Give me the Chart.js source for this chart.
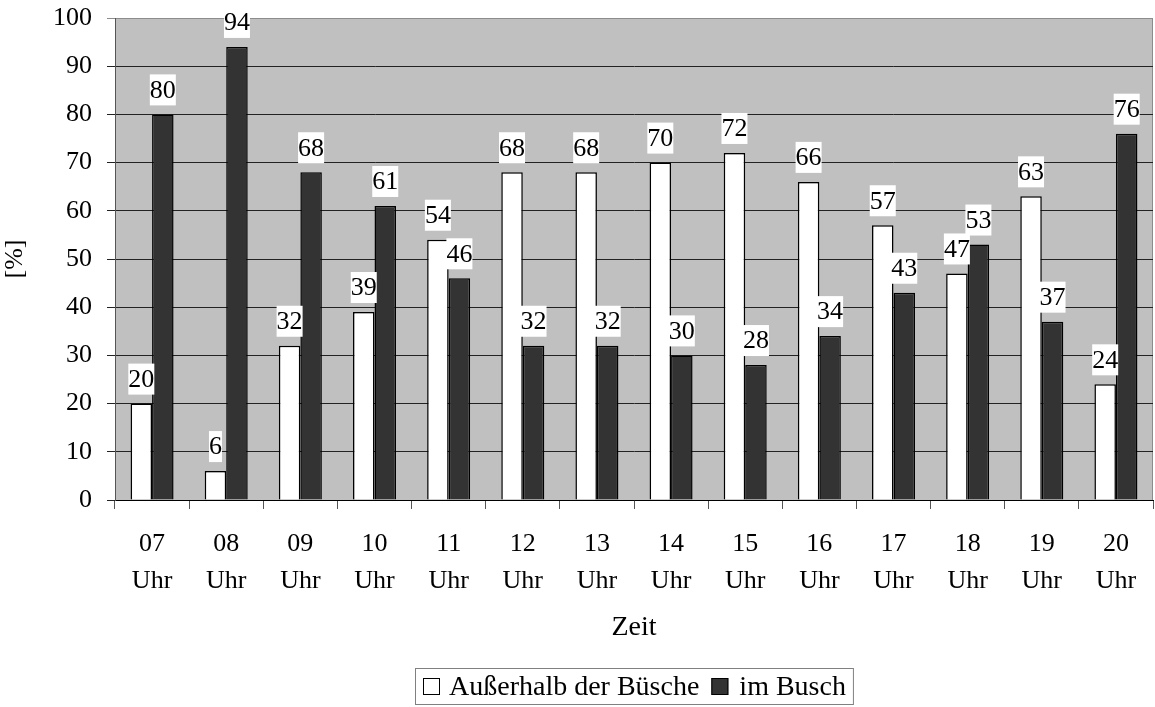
<!DOCTYPE html>
<html>
<head>
<meta charset="utf-8">
<script src="https://cdn.jsdelivr.net/npm/chart.js@4"></script>
<style>
  html, body { margin: 0; padding: 0; background: #fff; }
  #wrap { width: 1155px; height: 707px; }
</style>
</head>
<body>
<div id="wrap"><canvas id="barChart" width="1155" height="707"></canvas></div>
<script>
// Werte
const stunden = ["07", "08", "09", "10", "11", "12", "13", "14", "15", "16", "17", "18", "19", "20"];
const ausserhalb = [20, 6, 32, 39, 54, 68, 68, 70, 72, 66, 57, 47, 63, 24];
const imBusch = [80, 94, 68, 61, 46, 32, 32, 30, 28, 34, 43, 53, 37, 76];
const yTicks = [0, 10, 20, 30, 40, 50, 60, 70, 80, 90, 100];
const serienNamen = ["Außerhalb der Büsche", "im Busch"];

const schrift = "Liberation Serif";
const groesse = 26;

// Grauer Hintergrund der Zeichenfläche
const hintergrund = {
    id: "hintergrund",
    beforeDraw(chart) {
        const { ctx, chartArea: a } = chart;
        ctx.save();
        ctx.fillStyle = "#C0C0C0";
        ctx.fillRect(a.left, a.top, a.right - a.left, a.bottom - a.top);
        ctx.strokeStyle = "#8c8c8c";
        ctx.lineWidth = 1;
        ctx.beginPath();
        ctx.moveTo(a.left, a.top + 0.5);
        ctx.lineTo(a.right - 0.5, a.top + 0.5);
        ctx.lineTo(a.right - 0.5, a.bottom);
        ctx.stroke();
        ctx.restore();
    }
};

// Werte über den Balken mit weißem Kasten
const wertLabels = {
    id: "wertLabels",
    afterDatasetsDraw(chart) {
        const ctx = chart.ctx;
        ctx.save();
        ctx.font = groesse + "px '" + schrift + "'";
        ctx.textAlign = "center";
        ctx.textBaseline = "middle";
        chart.data.datasets.forEach((ds, i) => {
            chart.getDatasetMeta(i).data.forEach((bar, j) => {
                const txt = String(ds.data[j]);
                const w = ctx.measureText(txt).width;
                const h = 31;
                const unten = bar.y - 9;
                ctx.fillStyle = "#fff";
                ctx.fillRect(bar.x - w / 2, unten - h, w, h);
                ctx.fillStyle = "#000";
                ctx.fillText(txt, bar.x, unten - h / 2 + 1);
            });
        });
        ctx.restore();
    }
};

// Legende unten mit Rahmen, mittig unter der Zeichenfläche
const legendeKasten = {
    id: "legendeKasten",
    afterDraw(chart) {
        const ctx = chart.ctx;
        const a = chart.chartArea;
        ctx.save();
        ctx.font = "28px '" + schrift + "'";
        ctx.textBaseline = "middle";
        const w1 = ctx.measureText(serienNamen[0]).width;
        const w2 = ctx.measureText(serienNamen[1]).width;
        const breite = 8 + 17 + 9 + w1 + 12 + 17 + 11 + w2 + 7;
        const links = Math.round((a.left + a.right) / 2 - breite / 2);
        const oben = 668, hoehe = 36;
        const mitte = oben + hoehe / 2;
        const farben = ["#FFFFFF", "#333333"];
        const luecken = [9, 11];
        let x = links + 8;
        serienNamen.forEach((name, i) => {
            ctx.fillStyle = farben[i];
            ctx.fillRect(x, mitte - 8, 17, 17);
            ctx.strokeStyle = "#000";
            ctx.lineWidth = 1;
            ctx.strokeRect(x + 0.5, mitte - 7.5, 16, 16);
            x += 17 + luecken[i];
            ctx.fillStyle = "#000";
            ctx.fillText(name, x, mitte + 2);
            x += ctx.measureText(name).width + 12;
        });
        ctx.strokeStyle = "#808080";
        ctx.strokeRect(links + 0.5, oben + 0.5, breite, hoehe);
        ctx.restore();
    }
};

const ctx = document.getElementById("barChart").getContext("2d");

new Chart(ctx, {
    type: "bar",
    data: {
        labels: stunden.map(s => [s, "Uhr"]),
        datasets: [{
            label: serienNamen[0],
            data: ausserhalb,
            backgroundColor: "#FFFFFF",
            borderColor: "#000000",
            borderWidth: 1.5
        }, {
            label: serienNamen[1],
            data: imBusch,
            backgroundColor: "#333333",
            borderColor: "#000000",
            borderWidth: 1.5
        }]
    },
    options: {
        responsive: false,
        animation: false,
        layout: { padding: { top: 18, right: 2, left: 0, bottom: 57 } },
        datasets: {
            bar: { categoryPercentage: 0.58, barPercentage: 1.0 }
        },
        scales: {
            x: {
                offset: true,
                afterFit: (scale) => {
                    scale.height = 150;
                    scale.paddingLeft = 0;
                    scale.paddingRight = 0;
                },
                grid: {
                    offset: true,
                    drawOnChartArea: false,
                    tickLength: 9,
                    color: "#555"
                },
                border: { color: "#000", width: 1 },
                ticks: {
                    color: "#000",
                    padding: 17,
                    font: { family: schrift, size: groesse, lineHeight: 1.42 },
                    maxRotation: 0
                },
                title: {
                    display: true,
                    text: "Zeit",
                    color: "#000",
                    padding: { top: 0, bottom: 6 },
                    font: { family: schrift, size: 28, lineHeight: 1.2 }
                }
            },
            y: {
                min: 0,
                max: 100,
                afterFit: (scale) => {
                    scale.width = 115;
                    scale.paddingTop = 0;
                    scale.paddingBottom = 0;
                },
                afterBuildTicks: (scale) => { scale.ticks = yTicks.map(v => ({ value: v })); },
                grid: {
                    tickLength: 8,
                    color: (c) => c.tick && c.tick.value === 100 ? "#8c8c8c" : "#222"
                },
                border: { color: "#555", width: 1 },
                ticks: {
                    color: "#000",
                    padding: 15,
                    font: { family: schrift, size: groesse }
                },
                title: {
                    display: true,
                    text: "[%]",
                    color: "#000",
                    padding: { top: 0, bottom: 0 },
                    font: { family: schrift, size: groesse, lineHeight: 1.2 }
                }
            }
        },
        plugins: {
            legend: { display: false },
            tooltip: { enabled: false }
        }
    },
    plugins: [hintergrund, wertLabels, legendeKasten]
});
</script>
</body>
</html>
